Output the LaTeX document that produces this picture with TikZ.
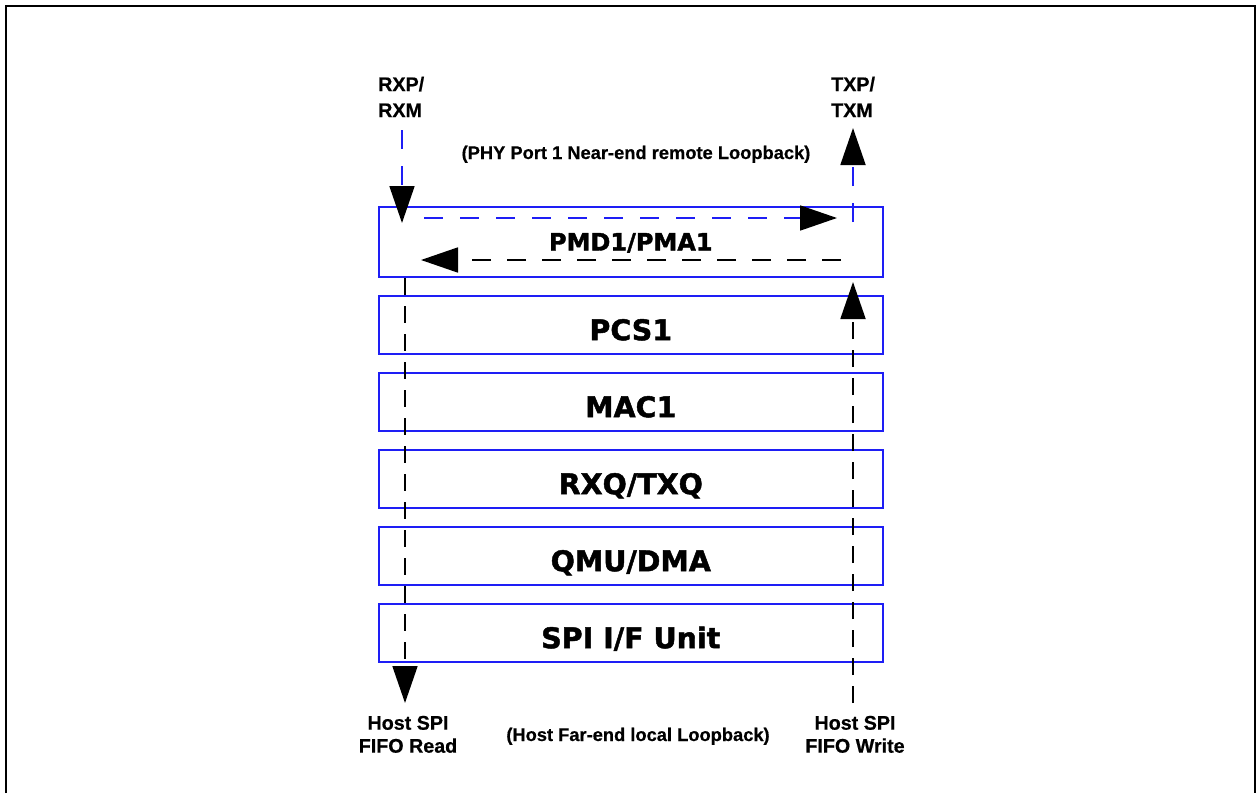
\documentclass[tikz,border=0pt]{standalone}
\usepackage{fontspec}
\setmainfont{Liberation Sans}[BoldFeatures={FakeBold=0.6}]
\newfontfamily\boxfont{DejaVu Sans}[BoldFeatures={FakeBold=1.6}]
\usetikzlibrary{arrows.meta}
\definecolor{layerblue}{RGB}{30,30,245}
\begin{document}
\begin{tikzpicture}[x=1pt,y=-1pt,
  layer/.style={draw=layerblue, line width=1.6pt, minimum width=504pt, inner sep=0pt, anchor=north west},
  layertext/.style={font=\boxfont\bfseries\fontsize{28.5}{30}\selectfont, text height=20.8pt, text depth=0pt, inner sep=0pt, yshift=-5pt},
  pmdtext/.style={font=\boxfont\bfseries\fontsize{24}{26}\selectfont, text height=17.5pt, text depth=0pt, inner sep=0pt},
  termlabel/.style={font=\bfseries\fontsize{19.7}{26}\selectfont, inner sep=0pt},
  hostlabel/.style={font=\bfseries\fontsize{19.7}{23}\selectfont, inner sep=0pt, align=center, anchor=north},
  notelabel/.style={font=\bfseries\fontsize{18.3}{22}\selectfont, inner sep=0pt, anchor=base},
  bigtip/.style={-{Triangle[length=37pt,width=25pt,color=black]}},
  bluedash/.style={draw=layerblue, line width=1.8pt, dash pattern=on 19pt off 17pt},
  blackvert/.style={draw=black, line width=1.8pt, dash pattern=on 17pt off 11pt},
  blackhor/.style={draw=black, line width=1.8pt, dash pattern=on 19pt off 16pt},
]
\useasboundingbox (0,0) rectangle (1256,793);
\fill[white] (0,0) rectangle (1256,793);
% outer frame
\draw[line width=2.5pt] (6,793) -- (6,6) -- (1255,6) -- (1255,793);

% layers
\node[layer, minimum height=70pt] (pmd) at (378,206) {};
\node[layer, minimum height=58pt] (pcs) at (378,295) {};
\node[layer, minimum height=58pt] (mac) at (378,372) {};
\node[layer, minimum height=58pt] (rxq) at (378,449) {};
\node[layer, minimum height=58pt] (qmu) at (378,526) {};
\node[layer, minimum height=58pt] (spi) at (378,603) {};

\node[pmdtext] (pmdt) at (pmd.center) {PMD1/PMA1};
\node[layertext] (pcst) at (pcs.center) {PCS1};
\node[layertext] (mact) at (mac.center) {MAC1};
\node[layertext] (rxqt) at (rxq.center) {RXQ/TXQ};
\node[layertext] (qmut) at (qmu.center) {QMU/DMA};
\node[layertext] (spit) at (spi.center) {SPI I/F Unit};

% labels
\node[termlabel, align=left, anchor=north west] (rxl) at (378,76.6) {RXP/\\RXM};
\node[termlabel, align=left, anchor=north west] (txl) at (831,76.6) {TXP/\\TXM};
\node[notelabel] (near) at (636,159) {(PHY Port 1 Near-end remote Loopback)};
\node[notelabel] (far) at (638,741) {(Host Far-end local Loopback)};
\node[hostlabel] (hrd) at (408,715.7) {Host SPI\\FIFO Read};
\node[hostlabel] (hwr) at (855,715.7) {Host SPI\\FIFO Write};

% path points
\coordinate (rxin) at (402,130);
\coordinate (rxdown) at (402,223);
\coordinate (hbstart) at (424,218);
\coordinate (hbend) at (837,218);
\coordinate (txstart) at (853,222);
\coordinate (txout) at (853,128);
\coordinate (hkstart) at (841,260);
\coordinate (hkend) at (421,260);
\coordinate (rdstart) at (405,278);
\coordinate (rdend) at (405,703);
\coordinate (wrstart) at (853,703);
\coordinate (wrend) at (853,282);

% near-end remote loopback (blue)
\draw[bluedash, bigtip] (rxin) -- (rxdown);
\draw[bluedash, bigtip] (hbstart) -- (hbend);
\draw[bluedash, bigtip] (txstart) -- (txout);
% far-end local loopback (black)
\draw[blackhor, bigtip] (hkstart) -- (hkend);
\draw[blackvert, bigtip] (rdstart) -- (rdend);
\draw[blackvert, bigtip] (wrstart) -- (wrend);
\end{tikzpicture}
\end{document}
